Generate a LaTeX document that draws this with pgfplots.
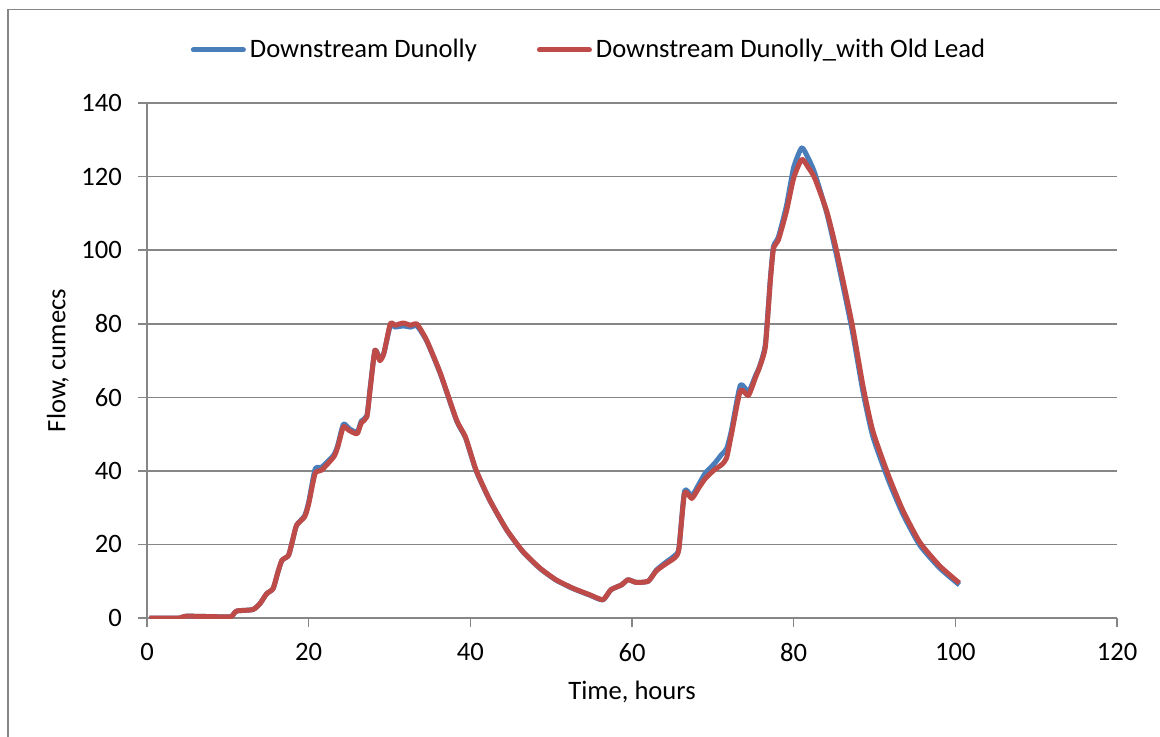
\documentclass[border=0pt]{standalone}
\usepackage{pgfplots}
\pgfplotsset{compat=1.18}
\usepackage{pgfplotstable}
\usepackage{fontspec}
\setmainfont{Carlito}

\definecolor{serblue}{HTML}{4A7EBB}
\definecolor{serred}{HTML}{BE4B48}
\definecolor{gridgray}{HTML}{868686}

% red series (with old lead)
\pgfplotstableread{
x y
0.3 0
4 0
4.9 0.5
9.8 0.3
10.5 0.5
11.1 1.9
13.1 2.3
14 4
14.8 6.6
15.6 8
16.2 12.5
16.7 15.7
17.5 17
18 21
18.5 25.2
19.5 27.5
20 31
20.8 39.3
21.6 40.2
23.1 43.8
23.6 46.5
24.3 52
25 51
26 50.1
26.5 53
27.2 54.7
27.6 62
28.2 72.8
28.8 70
29.3 71.9
30.1 80
30.7 79.6
31.7 80.2
32.6 79.6
33.4 79.9
34.6 75.5
36.3 66.5
38.3 53.8
39.4 49.2
40.7 40.3
42.4 32.1
44.5 24
46.5 18.1
48.6 13.6
50.6 10.4
52.7 8.1
54.8 6.3
56.4 5
57.4 7.7
58.7 9
59.5 10.4
60.5 9.7
62 10
63 12.8
64.1 14.6
65.3 16.4
65.8 18.7
66.5 33.9
67.4 32.5
68.3 35.5
69.1 38
70.2 40.3
71.1 41.7
71.7 43.5
72.3 49.9
73.4 61.8
74.4 60.5
75.3 65.5
75.8 68.3
76.5 73.8
77.1 91.2
77.5 100.4
78.1 102.7
79.1 110.5
80 119.6
81 124.7
81.8 122.5
82.6 119.6
84.1 110.5
85.3 99.9
87.2 80.2
88.6 62.8
89.8 50.8
91.7 38.9
93.5 29.3
95.6 20.6
98.1 14.1
100.5 9.5
}\oldlead

% blue series
\pgfplotstableread{
x y
0.3 0
4 0
4.9 0.5
9.8 0.3
10.5 0.5
11.1 1.9
13.1 2.3
14 4
14.8 6.6
15.6 8
16.2 12.5
16.7 15.7
17.5 17
18 21
18.5 25.2
19.5 27.8
20 31.5
20.8 40.5
21.6 41
23.1 44.3
23.6 47
24.3 52.7
25 51.5
26 50.5
26.5 53.5
27.2 55
27.6 62.5
28.2 72.8
28.8 70.5
29.3 72
30.1 79.5
30.7 79.1
31.7 79.4
32.6 79.1
33.4 79.4
34.6 75.3
36.3 66.3
38.3 53.6
39.4 49
40.7 40.1
42.4 32
44.5 23.9
46.5 18
48.6 13.5
50.6 10.3
52.7 8
54.8 6.2
56.4 4.9
57.4 7.7
58.7 9
59.5 10.4
60.5 9.7
62 10
63 13
64.1 15
65.3 17
65.8 19
66.5 34.5
67.4 33.2
68.3 36.5
69.1 39.5
70.2 42
71.1 44.5
71.7 46
72.3 51
73.4 63.3
74.4 61.5
75.3 66
75.8 68.5
76.5 74.5
77.1 92
77.5 101
78.1 103.5
79.1 112
80 122.5
81 127.8
81.8 125
82.6 121
84.1 110
85.3 98.6
87.2 78.6
88.6 61.2
89.8 49.3
91.7 37.6
93.5 28.3
95.6 19.8
98.1 13.5
100.5 9
}\base

\begin{document}
\begin{tikzpicture}[font=\fontsize{13.3}{16}\selectfont]
\useasboundingbox (0pt,0pt) rectangle (580pt,-368pt);
\draw[gridgray, line width=0.8pt] (4pt,-370pt) -- (4pt,-4.75pt) -- (582pt,-4.75pt);
\begin{axis}[
    at={(73.5pt,-309pt)}, anchor=south west,
    scale only axis,
    width=485pt, height=257.5pt,
    xmin=0, xmax=120, ymin=0, ymax=140,
    xtick={0,20,...,120}, ytick={0,20,...,140},
    axis x line*=bottom, axis y line*=left,
    axis line style={gridgray, line width=0.8pt, -},
    tick align=outside, major tick length=4.5pt,
    tick style={gridgray, line width=0.8pt},
    xticklabel style={yshift=-4.5pt},
    yticklabel style={xshift=-4.5pt},
    ymajorgrids, grid style={gridgray, line width=0.8pt},
    /pgf/number format/assume math mode=true,
    xlabel={Time, hours}, ylabel={Flow, cumecs},
    xlabel style={at={(axis description cs:0.5,-0.1437)}, anchor=center},
    ylabel style={at={(axis description cs:-0.0918,0.5)}, anchor=center},
    legend columns=2,
    legend style={draw=none, fill=none, at={(axis description cs:0.4567,1.103)}, anchor=center,
        /tikz/every even column/.append style={column sep=28pt},
        font=\fontsize{13.3}{16}\selectfont},
    legend image code/.code={\draw[#1, line cap=round] (1.25pt,0pt) -- (26.25pt,0pt);},
]
\addplot[serblue, line width=2.5pt, line join=round, smooth, tension=0.35] table[x=x, y=y] {\base};
\addlegendentry{Downstream Dunolly}
\addplot[serred, line width=2.5pt, line join=round, smooth, tension=0.35] table[x=x, y=y] {\oldlead};
\addlegendentry{Downstream Dunolly\_with Old Lead}
\end{axis}
\end{tikzpicture}
\end{document}
